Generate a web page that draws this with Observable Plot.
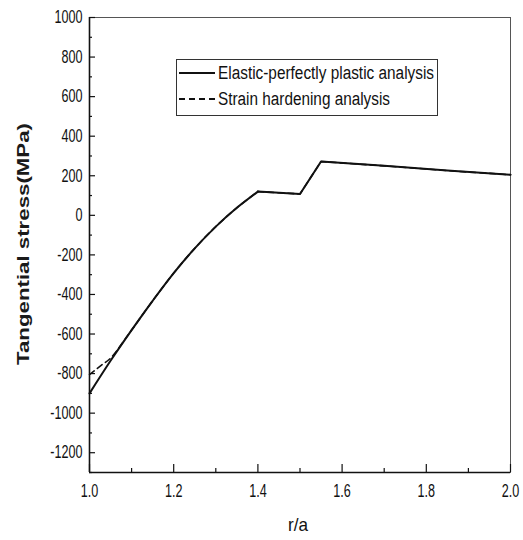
<!DOCTYPE html>
<html>
<head>
<meta charset="utf-8">
<script src="https://cdn.jsdelivr.net/npm/d3@7"></script>
<script src="https://cdn.jsdelivr.net/npm/@observablehq/plot@0.6"></script>
<style>
  html, body { margin: 0; padding: 0; background: #fff; }
  #chart svg { display: block; }
</style>
</head>
<body>
<div id="chart"></div>
<script>
// Elastic-perfectly plastic analysis (solid): curved plastic zone, then linear parts
const rSolidCurve = [1.0, 1.05, 1.1, 1.15, 1.2, 1.25, 1.3, 1.35, 1.4];
const sSolidCurve = [-900, -735, -580, -432, -292, -167, -57, 38, 120];
const rSolidOuter = [1.4, 1.5, 1.55, 1.7, 1.85, 2.0];
const sSolidOuter = [120, 108, 272, 250, 226, 205];
// Strain hardening analysis (dashed)
const rDashedCurve = [1.0, 1.03, 1.05, 1.1, 1.15, 1.2, 1.25, 1.3, 1.35, 1.4];
const sDashedCurve = [-805, -755, -722, -580, -432, -292, -167, -57, 38, 120];
const rDashedOuter = [1.4, 1.5, 1.55, 1.7, 1.85, 2.0];
const sDashedOuter = [120, 108, 272, 250, 226, 205];

const xMajor = [1.0, 1.2, 1.4, 1.6, 1.8, 2.0];
const xMinor = [1.1, 1.3, 1.5, 1.7, 1.9];
const yMajor = [-1200, -1000, -800, -600, -400, -200, 0, 200, 400, 600, 800, 1000];
const yMinor = [-1300, -1100, -900, -700, -500, -300, -100, 100, 300, 500, 700, 900];

const legendLabels = ["Elastic-perfectly plastic analysis", "Strain hardening analysis"];
const xLabel = "r/a";
const yLabel = "Tangential stress(MPa)";

const toRows = (rs, ss) => rs.map((r, i) => ({r, s: ss[i]}));
const solidCurve = toRows(rSolidCurve, sSolidCurve);
const solidOuter = toRows(rSolidOuter, sSolidOuter);
const dashedCurve = toRows(rDashedCurve, sDashedCurve);
const dashedOuter = toRows(rDashedOuter, sDashedOuter);

const W = 523, H = 540;
const mL = 89, mR = 13, mT = 17, mB = 68;
const pw = W - mL - mR, ph = H - mT - mB;
const FONT = '"Liberation Sans", Arial, sans-serif';

const chart = Plot.plot({
  width: W,
  height: H,
  marginLeft: mL, marginRight: mR, marginTop: mT, marginBottom: mB,
  style: {fontFamily: FONT, fontSize: "17px", color: "#111", background: "#fff"},
  x: {domain: [1.0, 2.0], label: null},
  y: {domain: [-1300, 1000], label: null},
  marks: [
    Plot.frame({stroke: "#555", strokeWidth: 1}),
    Plot.ruleX([1.0], {stroke: "#111", strokeWidth: 1.6}),
    Plot.ruleY([-1300], {stroke: "#111", strokeWidth: 1.6}),
    Plot.tickY(yMajor, {y: d => d, stroke: "#111", strokeWidth: 1.2, insetRight: pw - 6}),
    Plot.tickY(yMinor, {y: d => d, stroke: "#111", strokeWidth: 1.2, insetRight: pw - 3}),
    Plot.tickX(xMajor, {x: d => d, stroke: "#111", strokeWidth: 1.2, insetTop: ph - 8}),
    Plot.tickX(xMinor, {x: d => d, stroke: "#111", strokeWidth: 1.2, insetTop: ph - 4}),
    Plot.axisY({ticks: yMajor, tickSize: 0, tickPadding: 7, label: null, fontSize: 18, tickFormat: d => String(d)}),
    Plot.axisX({ticks: xMajor, tickSize: 0, tickPadding: 12, label: null, fontSize: 18, tickFormat: d => d.toFixed(1)}),
    Plot.line(dashedCurve, {x: "r", y: "s", stroke: "#111", strokeWidth: 1.6, strokeDasharray: "6,4", curve: "catmull-rom"}),
    Plot.line(dashedOuter, {x: "r", y: "s", stroke: "#111", strokeWidth: 1.6, strokeDasharray: "6,4"}),
    Plot.line(solidCurve, {x: "r", y: "s", stroke: "#111", strokeWidth: 2, curve: "catmull-rom"}),
    Plot.line(solidOuter, {x: "r", y: "s", stroke: "#111", strokeWidth: 2})
  ]
});

document.getElementById("chart").appendChild(chart);

const svg = d3.select(chart);

// condense tick labels horizontally (reference uses a narrow face)
chart.querySelectorAll("text").forEach(t => {
  const len = t.getComputedTextLength();
  if (len > 0) {
    t.setAttribute("textLength", (len * 0.7).toFixed(1));
    t.setAttribute("lengthAdjust", "spacingAndGlyphs");
  }
});

// axis titles
svg.append("text")
  .attr("transform", "translate(29,244) rotate(-90)")
  .attr("text-anchor", "middle")
  .attr("font-family", FONT)
  .attr("font-weight", "bold")
  .attr("font-size", 17)
  .attr("fill", "#1a1a1a")
  .attr("textLength", 242)
  .attr("lengthAdjust", "spacingAndGlyphs")
  .text(yLabel);
svg.append("text")
  .attr("x", 298).attr("y", 531)
  .attr("text-anchor", "middle")
  .attr("font-family", FONT)
  .attr("font-size", 19)
  .attr("fill", "#111")
  .attr("textLength", 20)
  .attr("lengthAdjust", "spacingAndGlyphs")
  .text(xLabel);

// legend
const lg = svg.append("g");
lg.append("rect").attr("x", 176.5).attr("y", 59.5).attr("width", 261).attr("height", 56)
  .attr("fill", "#fff").attr("stroke", "#333").attr("stroke-width", 1);
const rows = [{y: 73, dash: null, w: 216}, {y: 99, dash: "6,4", w: 172}];
rows.forEach((row, i) => {
  lg.append("line").attr("x1", 179).attr("x2", 215).attr("y1", row.y).attr("y2", row.y)
    .attr("stroke", "#111").attr("stroke-width", 2).attr("stroke-dasharray", row.dash);
  lg.append("text").attr("x", 218).attr("y", row.y).attr("dy", "0.35em")
    .attr("text-anchor", "start")
    .attr("font-family", FONT).attr("font-size", 18).attr("fill", "#111")
    .attr("textLength", row.w).attr("lengthAdjust", "spacingAndGlyphs")
    .text(legendLabels[i]);
});
</script>
</body>
</html>
